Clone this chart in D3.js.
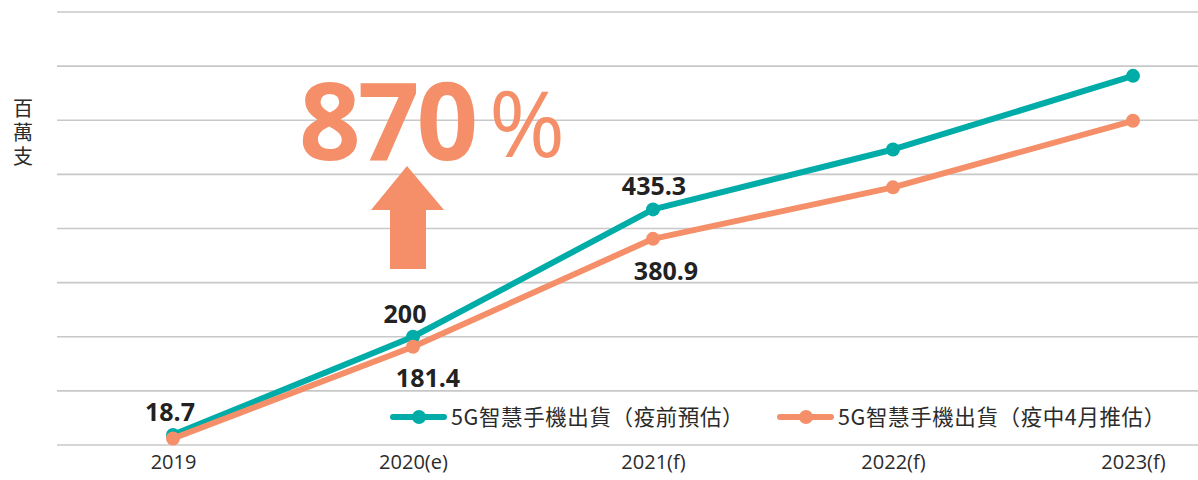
<!DOCTYPE html>
<html>
<head>
<meta charset="utf-8">
<script src="https://cdn.jsdelivr.net/npm/d3@7"></script>
<style>
  body { margin: 0; background: #fff; }
  svg { display: block; }
</style>
</head>
<body>
<script>
var width = 1198, height = 480;

// chart data
var years = ['2019', '2020(e)', '2021(f)', '2022(f)', '2023(f)'];
var preCovid = [18.7, 200, 435.3, 546, 682];
var inCovid = [12, 181.4, 380.9, 476, 599];
var preLabels = ['18.7', '200', '435.3', null, null];
var inLabels = [null, '181.4', '380.9', null, null];
var gridTicks = [0, 100, 200, 300, 400, 500, 600, 700, 800];
var legendNames = ['5G智慧手機出貨（疫前預估）', '5G智慧手機出貨（疫中4月推估）'];

var green = '#00aca8', orange = '#f58f69';

var x = d3.scalePoint().domain(years).range([173, 1133]);
var y = d3.scaleLinear().domain([0, 800]).range([445, 12]);

var svg = d3.select('body').append('svg')
    .attr('width', width)
    .attr('height', height)
    .style('font-family', '"Noto Sans CJK TC", "Open Sans", sans-serif');

// gridlines
svg.append('g')
  .selectAll('line')
  .data(gridTicks)
  .enter()
  .append('line')
    .attr('x1', 57)
    .attr('x2', width)
    .attr('y1', function(d) { return y(d); })
    .attr('y2', function(d) { return y(d); })
    .attr('stroke', '#c8c8c8')
    .attr('stroke-width', 1.6);

// x axis labels
var xAxis = svg.append('g')
    .attr('transform', 'translate(0,' + 455 + ')')
    .call(d3.axisBottom(x).tickSize(0).tickPadding(0));
xAxis.select('.domain').remove();
xAxis.selectAll('text')
    .attr('dy', '0.71em')
    .style('font-family', '"Open Sans", sans-serif')
    .style('font-size', '20px')
    .attr('fill', '#2b2b2b');

// y axis title, vertical
svg.append('text')
    .attr('x', 23)
    .attr('y', 98)
    .style('writing-mode', 'vertical-rl')
    .style('text-orientation', 'upright')
    .style('font-size', '20px')
    .style('letter-spacing', '4px')
    .attr('fill', '#2b2b2b')
    .text('百萬支');

// big annotation
var ann = svg.append('g');
ann.append('text')
    .attr('x', 299)
    .attr('y', 160)
    .style('font-family', '"Open Sans", sans-serif')
    .style('font-weight', 'bold')
    .style('font-size', '108px')
    .style('letter-spacing', '-3px')
    .attr('fill', orange)
    .text('870');
ann.append('text')
    .attr('x', 489)
    .attr('y', 157)
    .style('font-family', '"Open Sans", sans-serif')
    .style('font-size', '92px')
    .attr('fill', orange)
    .text('%');
ann.append('path')
    .attr('d', 'M407,166 L444,210 L426,210 L426,269 L390,269 L390,210 L371,210 Z')
    .attr('fill', orange);

// lines
var line = d3.line()
    .x(function(d, i) { return x(years[i]); })
    .y(function(d) { return y(d); });

function drawSeries(values, color) {
  var g = svg.append('g');
  g.append('path')
      .datum(values)
      .attr('d', line)
      .attr('fill', 'none')
      .attr('stroke', color)
      .attr('stroke-width', 6)
      .attr('stroke-linejoin', 'round');
  g.selectAll('circle')
      .data(values)
      .enter()
      .append('circle')
      .attr('cx', function(d, i) { return x(years[i]); })
      .attr('cy', function(d) { return y(d); })
      .attr('r', 7)
      .attr('fill', color);
}
drawSeries(preCovid, green);
drawSeries(inCovid, orange);

// value labels
var preOffsets = [[-3, -14], [-8, -14], [1, -14]];
var inOffsets = [null, [15, 40], [13, 41]];
var labelData = [];
years.forEach(function(yr, i) {
  if (preLabels[i]) labelData.push({ yr: yr, v: preCovid[i], t: preLabels[i], off: preOffsets[i] });
  if (inLabels[i]) labelData.push({ yr: yr, v: inCovid[i], t: inLabels[i], off: inOffsets[i] });
});
svg.append('g')
  .selectAll('text')
  .data(labelData)
  .enter()
  .append('text')
    .style('font-family', '"Open Sans", sans-serif')
    .style('font-weight', 'bold')
    .style('font-size', '25px')
    .attr('text-anchor', 'middle')
    .attr('fill', '#222')
    .attr('x', function(d) { return x(d.yr) + d.off[0]; })
    .attr('y', function(d) { return y(d.v) + d.off[1]; })
    .text(function(d) { return d.t; });

// legend
var legendX = [393, 780];
var legendColors = [green, orange];
var legend = svg.append('g')
  .selectAll('g')
  .data(legendNames)
  .enter()
  .append('g')
    .attr('transform', function(d, i) { return 'translate(' + legendX[i] + ',417)'; });
legend.append('line')
    .attr('x1', 0).attr('x2', 51)
    .attr('stroke', function(d, i) { return legendColors[i]; })
    .attr('stroke-width', 6)
    .attr('stroke-linecap', 'round');
legend.append('circle')
    .attr('cx', 26)
    .attr('r', 7)
    .attr('fill', function(d, i) { return legendColors[i]; });
legend.append('text')
    .attr('x', 58)
    .attr('y', 8)
    .style('font-size', '21.5px')
    .style('letter-spacing', '0.6px')
    .attr('fill', '#2b2b2b')
    .text(function(d) { return d; });
</script>
</body>
</html>
